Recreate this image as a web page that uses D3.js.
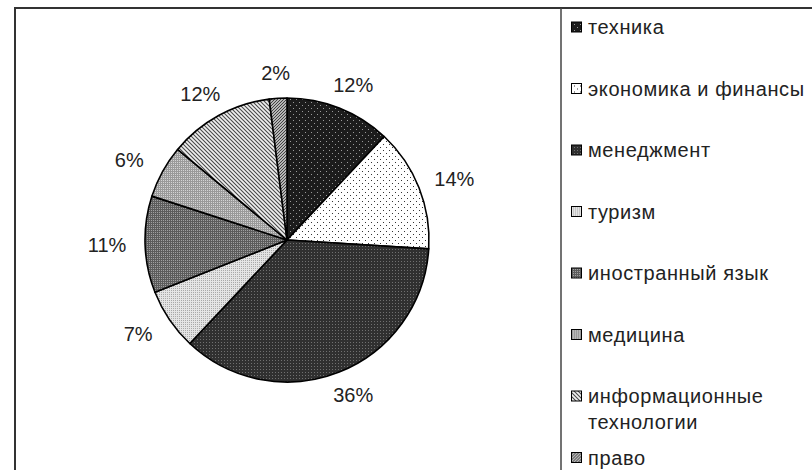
<!DOCTYPE html>
<html>
<head>
<meta charset="utf-8">
<script src="https://cdn.jsdelivr.net/npm/d3@7"></script>
<style>
  html, body { margin: 0; padding: 0; background: #fff; }
  svg { display: block; font-family: "Liberation Sans", Arial, sans-serif; }
</style>
</head>
<body>
<div id="chart"></div>
<script>
// categories and shares (%), clockwise from 12 o'clock
const CATEGORIES = [
  "техника",
  "экономика и финансы",
  "менеджмент",
  "туризм",
  "иностранный язык",
  "медицина",
  "информационные технологии",
  "право",
];
const VALUES = [12, 14, 36, 7, 11, 6, 12, 2];
const LEGEND_LINES = [
  ["техника"],
  ["экономика и финансы"],
  ["менеджмент"],
  ["туризм"],
  ["иностранный язык"],
  ["медицина"],
  ["информационные", "технологии"],
  ["право"],
];

const WIDTH = 812;
const HEIGHT = 470;
const CENTER = { x: 287, y: 240 };
const RADIUS = 142;
const LABEL_R = 160;

const svg = d3.select("#chart").append("svg")
  .attr("width", WIDTH)
  .attr("height", HEIGHT);

// —— fill patterns (black & white print look) ——
const defs = svg.append("defs");

function dotPattern(id, size, base, dot, dots) {
  const p = defs.append("pattern")
    .attr("id", id)
    .attr("patternUnits", "userSpaceOnUse")
    .attr("width", size)
    .attr("height", size);
  p.append("rect").attr("width", size).attr("height", size).attr("fill", base);
  dots.forEach(([dx, dy]) => {
    p.append("rect").attr("x", dx).attr("y", dy).attr("width", 1).attr("height", 1).attr("fill", dot);
  });
}

function hatchPattern(id, size, base, color, width, dir) {
  const p = defs.append("pattern")
    .attr("id", id)
    .attr("patternUnits", "userSpaceOnUse")
    .attr("width", size)
    .attr("height", size);
  p.append("rect").attr("width", size).attr("height", size).attr("fill", base);
  const d = dir > 0
    ? `M0,${size} L${size},0 M${-size / 2},${size / 2} L${size / 2},${-size / 2} M${size / 2},${size * 1.5} L${size * 1.5},${size / 2}`
    : `M0,0 L${size},${size} M${-size / 2},${size / 2} L${size / 2},${size * 1.5} M${size / 2},${-size / 2} L${size * 1.5},${size / 2}`;
  p.append("path").attr("d", d).attr("stroke", color).attr("stroke-width", width);
}

dotPattern("f0", 6, "#1c1c1c", "#9a9a9a", [[0, 0], [3, 3]]);
dotPattern("f1", 6, "#ffffff", "#333333", [[0, 0], [3, 3]]);
dotPattern("f2", 3, "#303030", "#707070", [[0, 0]]);
dotPattern("f3", 2, "#e4e4e4", "#a8a8a8", [[0, 0]]);
dotPattern("f4", 2, "#5c5c5c", "#a0a0a0", [[0, 0]]);
dotPattern("f5", 2, "#9a9a9a", "#d4d4d4", [[0, 0]]);
hatchPattern("f6", 4, "#f0f0f0", "#4a4a4a", 1.1, -1);
hatchPattern("f7", 3, "#e8e8e8", "#3a3a3a", 1.1, 1);

const fillOf = (i) => `url(#f${i})`;

// —— frame ——
svg.append("path")
  .attr("d", `M15,${HEIGHT + 2} V8 H${WIDTH + 2}`)
  .attr("fill", "none")
  .attr("stroke", "#333")
  .attr("stroke-width", 2);

svg.append("line")
  .attr("x1", 561).attr("x2", 561)
  .attr("y1", 8).attr("y2", HEIGHT + 2)
  .attr("stroke", "#444")
  .attr("stroke-width", 1.5);

// —— pie ——
const pie = d3.pie().sort(null).value((d) => d);
const arcs = pie(VALUES);
const arc = d3.arc().innerRadius(0).outerRadius(RADIUS);

const g = svg.append("g")
  .attr("transform", `translate(${CENTER.x},${CENTER.y})`);

g.selectAll("path.slice")
  .data(arcs)
  .join("path")
  .attr("class", "slice")
  .attr("d", arc)
  .attr("fill", (d, i) => fillOf(i))
  .attr("stroke", "#000")
  .attr("stroke-width", 1.6)
  .attr("stroke-linejoin", "round");

// percent labels just outside the rim, pushed away by half the text box
const LABEL_HALF_W = 20;
const LABEL_HALF_H = 7;
g.selectAll("text.pct")
  .data(arcs)
  .join("text")
  .attr("class", "pct")
  .attr("x", (d) => {
    const a = (d.startAngle + d.endAngle) / 2;
    return Math.sin(a) * LABEL_R + Math.sin(a) * LABEL_HALF_W;
  })
  .attr("y", (d) => {
    const a = (d.startAngle + d.endAngle) / 2;
    return -Math.cos(a) * LABEL_R - Math.cos(a) * LABEL_HALF_H;
  })
  .attr("text-anchor", "middle")
  .attr("dominant-baseline", "central")
  .attr("font-size", 20)
  .attr("fill", "#222")
  .text((d) => `${d.data}%`);

// —— legend ——
const legendY = d3.scaleLinear()
  .domain([0, CATEGORIES.length - 1])
  .range([27, 457.5]);

const legend = svg.append("g").attr("class", "legend");

const item = legend.selectAll("g.item")
  .data(CATEGORIES)
  .join("g")
  .attr("class", "item")
  .attr("transform", (d, i) => `translate(571,${legendY(i)})`);

item.append("rect")
  .attr("x", 0.5)
  .attr("y", -5)
  .attr("width", 10)
  .attr("height", 10)
  .attr("fill", (d, i) => fillOf(i))
  .attr("stroke", "#000")
  .attr("stroke-width", 1);

item.append("text")
  .attr("x", 17)
  .attr("y", 0)
  .attr("dominant-baseline", "central")
  .attr("font-size", 20)
  .attr("letter-spacing", 0.6)
  .attr("fill", "#222")
  .selectAll("tspan")
  .data((d, i) => LEGEND_LINES[i])
  .join("tspan")
  .attr("x", 17)
  .attr("dy", (d, j) => (j === 0 ? 0 : 26))
  .text((d) => d);
</script>
</body>
</html>
